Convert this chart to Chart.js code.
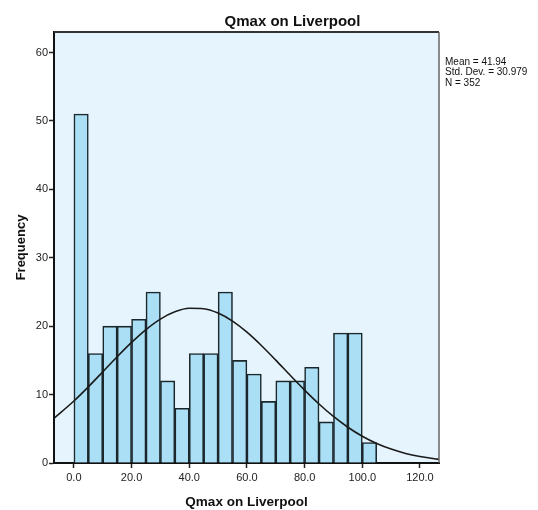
<!DOCTYPE html>
<html>
<head>
<meta charset="utf-8">
<title>Qmax on Liverpool</title>
<script src="https://cdn.jsdelivr.net/npm/chart.js@4.4.1/dist/chart.umd.min.js"></script>
<style>
  body { margin: 0; background: #fff; }
  #wrap { width: 538px; height: 510px; }
  canvas { display: block; }
</style>
</head>
<body>
<div id="wrap"><canvas id="myChart" width="538" height="510"></canvas></div>
<script>
// histogram bins (lower edge) and counts
var binStart = [0, 5, 10, 15, 20, 25, 30, 35, 40, 45, 50, 55, 60, 65, 70, 75, 80, 85, 90, 95, 100];
var counts = [51, 16, 20, 20, 21, 25, 12, 8, 16, 16, 25, 15, 13, 9, 12, 12, 14, 6, 19, 19, 3];
var binWidth = 5;

// normal curve
var curveX = [-6.9, 0, 5, 10, 15, 20, 25, 30, 35, 40, 45, 50, 55, 60, 65, 70, 75, 80, 85, 90, 95, 100, 105, 110, 115, 120, 125, 126.6];
var curveY = [6.53, 9.06, 11.13, 13.32, 15.53, 17.63, 19.51, 21.04, 22.10, 22.61, 22.55, 21.91, 20.73, 19.12, 17.18, 15.04, 12.82, 10.65, 8.62, 6.80, 5.23, 3.91, 2.85, 2.03, 1.40, 0.95, 0.62, 0.54];

var xTicks = [0, 20, 40, 60, 80, 100, 120];
var yTicks = [0, 10, 20, 30, 40, 50, 60];

var titleText = "Qmax on Liverpool";
var xTitle = "Qmax on Liverpool";
var yTitle = "Frequency";
var statsLines = ["Mean = 41.94", "Std. Dev. = 30.979", "N = 352"];

var fontFam = "'Liberation Sans', Arial, sans-serif";

var barPoints = binStart.map(function (b, i) {
  return { x: b + binWidth / 2, y: counts[i] };
});
var curvePoints = curveX.map(function (x, i) {
  return { x: x, y: curveY[i] };
});

// background of the plot, frame and the texts outside the axes
var framePlugin = {
  id: "frame",
  beforeDraw: function (chart) {
    var a = chart.chartArea;
    var ctx = chart.ctx;
    ctx.save();
    ctx.fillStyle = "#e6f5fd";
    ctx.fillRect(a.left, a.top, a.right - a.left, a.bottom - a.top);
    ctx.restore();
  },
  afterDraw: function (chart) {
    var a = chart.chartArea;
    var ctx = chart.ctx;
    ctx.save();
    ctx.strokeStyle = "#333";
    ctx.lineWidth = 2;
    ctx.beginPath();
    ctx.moveTo(a.left, a.top);
    ctx.lineTo(a.right, a.top);
    ctx.stroke();
    ctx.strokeStyle = "#666";
    ctx.lineWidth = 1.5;
    ctx.beginPath();
    ctx.moveTo(a.right, a.top);
    ctx.lineTo(a.right, a.bottom);
    ctx.stroke();

    ctx.fillStyle = "#111";
    ctx.textAlign = "center";
    ctx.textBaseline = "alphabetic";
    ctx.font = "bold 15px " + fontFam;
    ctx.fillText(titleText, 292.5, 25.7);

    ctx.textAlign = "left";
    ctx.font = "10px " + fontFam;
    statsLines.forEach(function (t, i) {
      ctx.fillText(t, 445, 65 + i * 10.35);
    });
    ctx.restore();
  }
};

new Chart("myChart", {
  type: "bar",
  data: {
    datasets: [
      {
        type: "line",
        data: curvePoints,
        borderColor: "#1a1a1a",
        borderWidth: 1.6,
        pointRadius: 0,
        fill: false,
        cubicInterpolationMode: "monotone",
        order: 0
      },
      {
        type: "bar",
        data: barPoints,
        backgroundColor: "#aadff6",
        borderColor: "#1c272c",
        borderWidth: 1.6,
        barPercentage: 1,
        categoryPercentage: 1,
        order: 1
      }
    ]
  },
  options: {
    responsive: false,
    animation: false,
    devicePixelRatio: 1,
    layout: { padding: { top: 32, right: 99, left: 0, bottom: 0 } },
    plugins: {
      legend: { display: false },
      tooltip: { enabled: false },
      title: { display: false }
    },
    scales: {
      x: {
        type: "linear",
        min: -6.9,
        max: 126.6,
        offset: false,
        afterFit: function (s) { s.height = 47; },
        afterBuildTicks: function (s) {
          s.ticks = xTicks.map(function (v) { return { value: v }; });
        },
        ticks: {
          includeBounds: false,
          autoSkip: false,
          maxRotation: 0,
          padding: 3,
          color: "#222",
          font: { family: fontFam, size: 11 },
          callback: function (v) { return v.toFixed(1); }
        },
        grid: {
          display: true,
          offset: false,
          drawOnChartArea: false,
          tickLength: 5,
          tickColor: "#222",
          tickWidth: 1.5
        },
        border: { display: true, color: "#111", width: 2 },
        title: {
          display: true,
          text: xTitle,
          color: "#111",
          font: { family: fontFam, size: 13.5, weight: "bold" },
          padding: { top: 0, bottom: 0 }
        }
      },
      y: {
        type: "linear",
        min: 0,
        max: 63,
        afterFit: function (s) { s.width = 54; },
        afterBuildTicks: function (s) {
          s.ticks = yTicks.map(function (v) { return { value: v }; });
        },
        ticks: {
          includeBounds: false,
          padding: 1,
          color: "#222",
          font: { family: fontFam, size: 11 }
        },
        grid: {
          display: true,
          drawOnChartArea: false,
          tickLength: 5,
          tickColor: "#222",
          tickWidth: 1.5
        },
        border: { display: true, color: "#111", width: 2 },
        title: {
          display: true,
          text: yTitle,
          color: "#111",
          font: { family: fontFam, size: 13, weight: "bold" },
          padding: { top: 14, bottom: 0 }
        }
      }
    }
  },
  plugins: [framePlugin]
});
</script>
</body>
</html>
